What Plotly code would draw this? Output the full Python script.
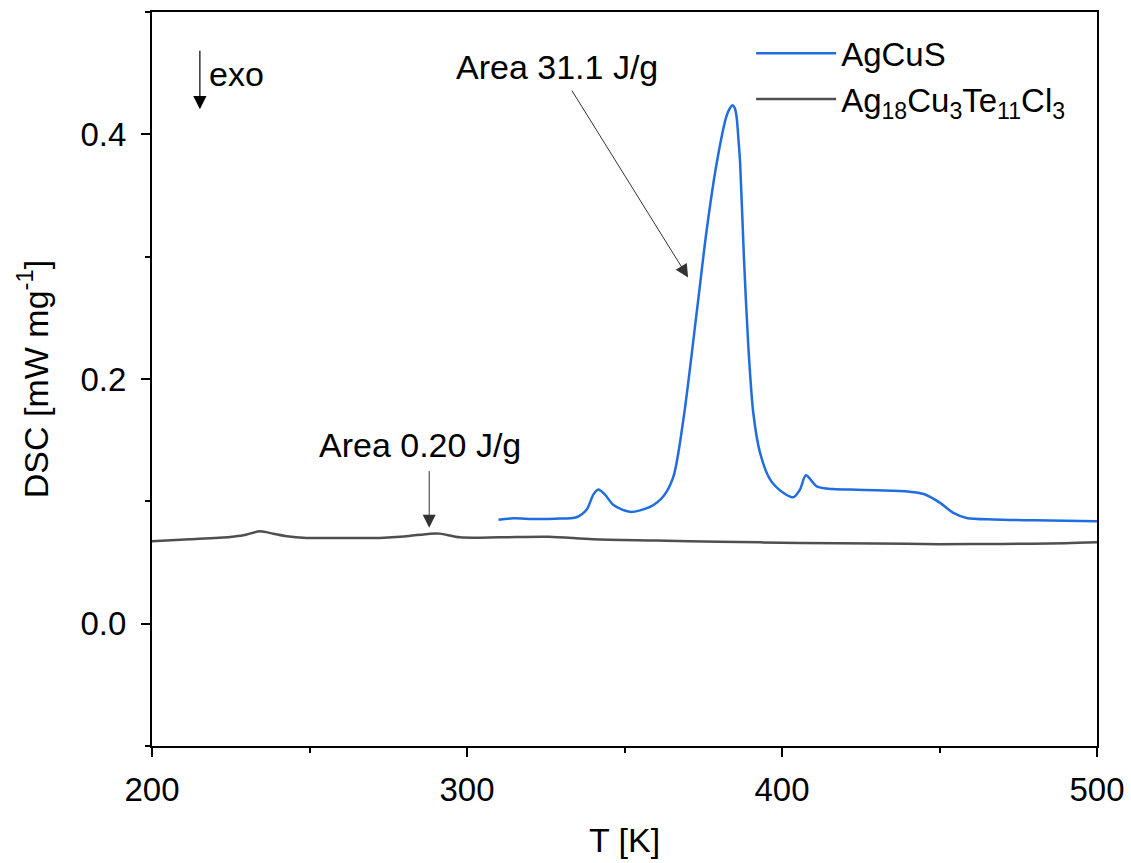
import plotly.graph_objects as go

# AgCuS DSC trace
t_agcus = [310.0, 314.7, 321.0, 328.0, 334.8, 338.0, 340.1, 341.7, 343.8, 346.4,
           351.7, 358.1, 362.3, 365.5, 368.7, 372.9, 376.1, 379.3, 382.4, 383.5,
           384.3, 385.0, 385.6, 386.2, 386.7, 387.9, 389.3, 390.9, 393.0, 396.2,
           400.4, 403.6, 405.7, 407.6, 411.0, 416.3, 421.6, 430.0, 440.0, 445.0,
           450.2, 454.4, 458.6, 467.1, 480.0, 490.0, 500.0]
dsc_agcus = [0.0850, 0.0861, 0.0856, 0.0858, 0.0870, 0.0933, 0.1055, 0.1096, 0.1055, 0.0973,
             0.0914, 0.0955, 0.1040, 0.1200, 0.1670, 0.2540, 0.3220, 0.3770, 0.4150, 0.4215,
             0.4237, 0.4215, 0.4140, 0.3950, 0.3770, 0.3000, 0.2270, 0.1720, 0.1400, 0.1180,
             0.1070, 0.1033, 0.1096, 0.1213, 0.1123, 0.1100, 0.1096, 0.1090, 0.1080, 0.1060,
             0.0987, 0.0905, 0.0864, 0.0851, 0.0845, 0.0841, 0.0837]

# Ag18Cu3Te11Cl3 DSC trace
t_agcute = [200.0, 212.0, 224.8, 229.0, 234.3, 238.5, 242.8, 249.1, 260.0, 272.4,
            280.0, 288.3, 291.4, 297.8, 310.5, 326.0, 340.0, 360.0, 380.0, 405.7,
            430.0, 450.0, 470.0, 490.0, 500.0]
dsc_agcute = [0.0674, 0.0690, 0.0709, 0.0722, 0.0755, 0.0735, 0.0714, 0.0701, 0.0701, 0.0701,
              0.0712, 0.0736, 0.0736, 0.0706, 0.0706, 0.0710, 0.0690, 0.0680, 0.0670, 0.0660,
              0.0655, 0.0650, 0.0652, 0.0658, 0.0665]

x_ticks = [200, 300, 400, 500]
y_ticks = [0.0, 0.2, 0.4]

FONT = "Liberation Sans, Arial, sans-serif"
BLUE = "#1f6de0"
GREY = "#4f4f4f"
TICK_SIZE = 33
TEXT_SIZE = 34

fig = go.Figure()
fig.add_trace(go.Scatter(x=t_agcus, y=dsc_agcus, mode="lines", name="AgCuS",
                         line=dict(color=BLUE, width=2.5, shape="spline", smoothing=0.8)))
fig.add_trace(go.Scatter(x=t_agcute, y=dsc_agcute, mode="lines",
                         name="Ag<sub>18</sub>Cu<sub>3</sub>Te<sub>11</sub>Cl<sub>3</sub>",
                         line=dict(color=GREY, width=2.5, shape="spline", smoothing=0.8)))

# "exo" direction arrow
fig.add_annotation(x=215.2, y=0.4205, ax=215.2, ay=0.4695, xref="x", yref="y",
                   axref="x", ayref="y", text="", showarrow=True, arrowhead=2,
                   arrowsize=2.2, arrowwidth=1.2, arrowcolor="black")
fig.add_annotation(x=217.5, y=0.449, xref="x", yref="y", text="exo", showarrow=False,
                   xanchor="left", yanchor="middle", font=dict(size=TEXT_SIZE, color="black"))

# Peak area labels
fig.add_annotation(x=370.2, y=0.283, ax=333.0, ay=0.437, xref="x", yref="y",
                   axref="x", ayref="y", text="", showarrow=True, arrowhead=2,
                   arrowsize=2.6, arrowwidth=1.0, arrowcolor="#333333")
fig.add_annotation(x=328.6, y=0.455, xref="x", yref="y", text="Area 31.1 J/g",
                   showarrow=False, xanchor="center", yanchor="middle",
                   font=dict(size=TEXT_SIZE, color="black"))
fig.add_annotation(x=288.0, y=0.0785, ax=288.0, ay=0.126, xref="x", yref="y",
                   axref="x", ayref="y", text="", showarrow=True, arrowhead=2,
                   arrowsize=2.6, arrowwidth=1.0, arrowcolor="#333333")
fig.add_annotation(x=285.1, y=0.146, xref="x", yref="y", text="Area 0.20 J/g",
                   showarrow=False, xanchor="center", yanchor="middle",
                   font=dict(size=TEXT_SIZE, color="black"))

axis_common = dict(showline=True, linecolor="black", linewidth=2, mirror=True,
                   ticks="outside", ticklen=9, tickwidth=2, tickcolor="black",
                   showgrid=False, zeroline=False, automargin=False,
                   tickfont=dict(size=TICK_SIZE, color="black", family=FONT),
                   minor=dict(ticks="outside", ticklen=5, tickwidth=2, tickcolor="black",
                              showgrid=False))

fig.update_xaxes(range=[200, 500], tickvals=x_ticks, ticktext=[str(v) for v in x_ticks],
                 minor_dtick=50, minor_tick0=200, ticklabelstandoff=4,
                 title=dict(text="T [K]", font=dict(size=TEXT_SIZE, color="black", family=FONT),
                            standoff=22),
                 **axis_common)
fig.update_yaxes(range=[-0.1, 0.5], tickvals=y_ticks, ticktext=[f"{v:.1f}" for v in y_ticks],
                 minor_dtick=0.1, minor_tick0=0.0, ticklabelstandoff=8,
                 title=dict(text="DSC [mW mg<sup>-1</sup>]",
                            font=dict(size=TEXT_SIZE, color="black", family=FONT), standoff=22),
                 **axis_common)

fig.update_layout(
    width=1131, height=863,
    margin=dict(l=152, r=34, t=12, b=117),
    paper_bgcolor="white", plot_bgcolor="white",
    font=dict(family=FONT, color="black", size=TEXT_SIZE),
    legend=dict(x=0.634, y=0.982, xanchor="left", yanchor="top",
                bgcolor="rgba(0,0,0,0)", itemwidth=80, tracegroupgap=0,
                font=dict(size=TEXT_SIZE - 1, color="black", family=FONT)),
)

fig.write_html("out.html")
